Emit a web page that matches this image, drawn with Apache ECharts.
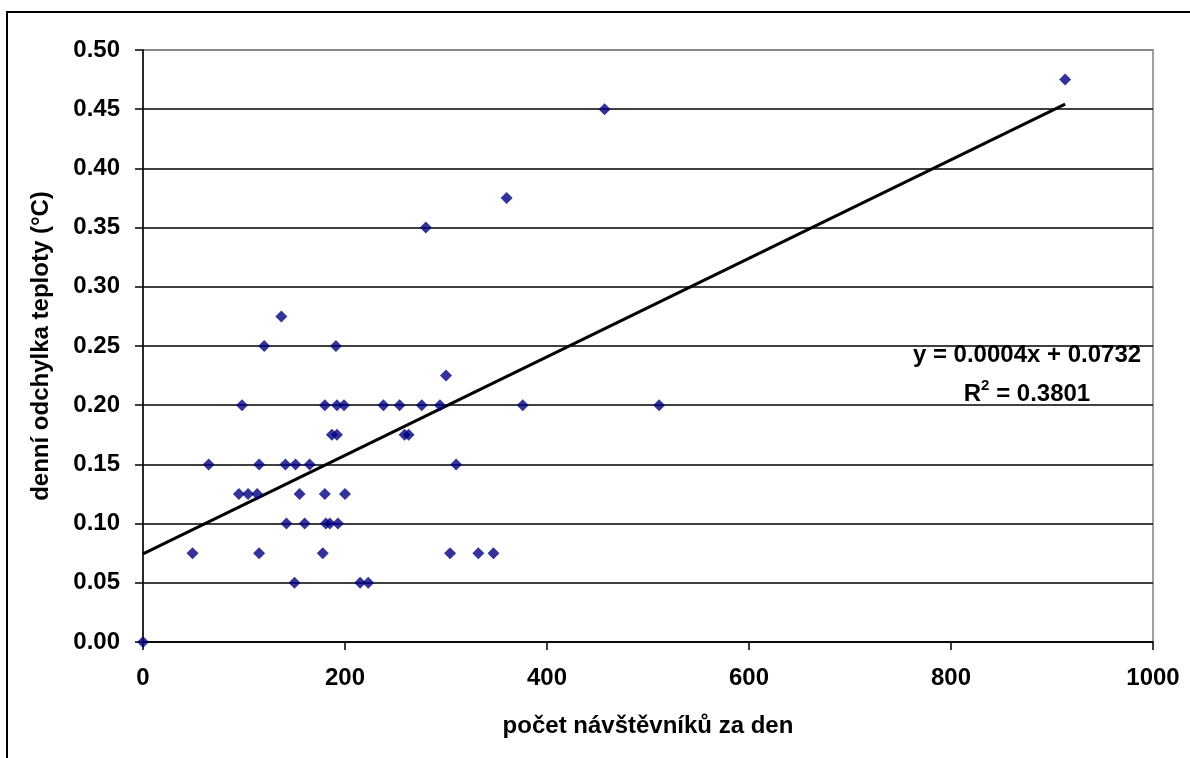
<!DOCTYPE html>
<html lang="cs">

<head>
    <meta charset="UTF-8">
    <title>denní odchylka teploty</title>
    <script src="https://cdn.jsdelivr.net/npm/echarts@6/dist/echarts.min.js"></script>
    <style>
        html, body {
            margin: 0;
            padding: 0;
            background: #fff;
        }
        #mChart {
            width: 1190px;
            height: 758px;
        }
    </style>
</head>

<body>
    <div id="mChart"></div>

    <script type="text/javascript">
        // počet návštěvníků za den (x) a denní odchylka teploty (y)
        const visitors = [913, 457, 360, 280, 137, 120, 191, 300,
            98, 180, 192, 199, 238, 254, 276, 294, 376, 511,
            187, 192, 259, 263,
            65, 115, 141, 151, 165, 310,
            95, 104, 113, 155, 180, 200,
            142, 160, 181, 185, 193,
            49, 115, 178, 304, 332, 347,
            150, 215, 223,
            0]
        const deviation = [0.475, 0.45, 0.375, 0.35, 0.275, 0.25, 0.25, 0.225,
            0.2, 0.2, 0.2, 0.2, 0.2, 0.2, 0.2, 0.2, 0.2, 0.2,
            0.175, 0.175, 0.175, 0.175,
            0.15, 0.15, 0.15, 0.15, 0.15, 0.15,
            0.125, 0.125, 0.125, 0.125, 0.125, 0.125,
            0.1, 0.1, 0.1, 0.1, 0.1,
            0.075, 0.075, 0.075, 0.075, 0.075, 0.075,
            0.05, 0.05, 0.05,
            0]

        // lineární trend, jak je vidět v grafu
        const trendIntercept = 0.0745
        const trendSlope = 0.000416
        const equationText = 'y = 0.0004x + 0.0732'
        const r2Text = '0.3801'

        const xTicks = [0, 200, 400, 600, 800, 1000]
        const yTicks = [0, 0.05, 0.1, 0.15, 0.2, 0.25, 0.3, 0.35, 0.4, 0.45, 0.5]

        const font = '"Liberation Sans", Arial, sans-serif'

        let points = visitors.map((v, i) => [v, deviation[i]])
        let xEnd = Math.max(...visitors)
        let trend = [[0, trendIntercept], [xEnd, trendIntercept + trendSlope * xEnd]]

        // poslední vodorovná čára splývá s šedým okrajem plochy
        let gridColors = yTicks.map((t, i) => i === yTicks.length - 1 ? '#808080' : '#000')

        var mChart = echarts.init(document.getElementById('mChart'))

        mChart.setOption({
            animation: false,
            backgroundColor: '#fff',
            textStyle: { fontFamily: font },
            grid: {
                left: 143,
                right: 37,
                top: 50,
                bottom: 116,
                show: true,
                borderColor: '#808080',
                borderWidth: 1.5,
                outerBoundsMode: 'none'
            },
            xAxis: {
                type: 'value',
                min: xTicks[0],
                max: xTicks[xTicks.length - 1],
                interval: 200,
                name: 'počet návštěvníků za den',
                nameLocation: 'middle',
                nameGap: 72,
                nameTextStyle: { color: '#000', fontSize: 24, fontWeight: 'bold', fontFamily: font },
                axisLine: { lineStyle: { color: '#000', width: 1.5 } },
                axisTick: { show: true, length: 8, lineStyle: { color: '#000', width: 1.5 } },
                axisLabel: {
                    color: '#000', fontSize: 24, fontWeight: 'bold', margin: 24,
                    formatter: v => String(v)
                },
                splitLine: { show: false }
            },
            yAxis: {
                type: 'value',
                min: yTicks[0],
                max: yTicks[yTicks.length - 1],
                interval: 0.05,
                name: 'denní odchylka teploty (°C)',
                nameLocation: 'middle',
                nameGap: 90,
                nameTextStyle: { color: '#000', fontSize: 24, fontWeight: 'bold', fontFamily: font },
                axisLine: { show: true, lineStyle: { color: '#000', width: 1.5 } },
                axisTick: { show: true, length: 8, lineStyle: { color: '#000', width: 1.5 } },
                axisLabel: {
                    color: '#000', fontSize: 24, fontWeight: 'bold', margin: 23,
                    formatter: v => v.toFixed(2)
                },
                splitLine: { show: true, lineStyle: { color: gridColors, width: 1.5 } }
            },
            series: [{
                type: 'line',
                data: trend,
                showSymbol: false,
                symbol: 'none',
                lineStyle: { color: '#000', width: 3 },
                z: 3
            }, {
                type: 'scatter',
                data: points,
                symbol: 'diamond',
                symbolSize: 12,
                itemStyle: { color: '#000080' },
                z: 4
            }],
            graphic: [{
                type: 'rect',
                shape: { x: 7, y: 12, width: 1300, height: 900 },
                style: { fill: null, stroke: '#000', lineWidth: 2 },
                silent: true
            }, {
                type: 'text',
                x: 1027,
                y: 355,
                style: {
                    text: equationText,
                    font: 'bold 24px ' + font,
                    fill: '#000',
                    align: 'center',
                    verticalAlign: 'middle'
                },
                z: 10
            }, {
                type: 'text',
                x: 1027,
                y: 392,
                style: {
                    text: '{r|R}{s|2}{r| = ' + r2Text + '}',
                    fill: '#000',
                    align: 'center',
                    verticalAlign: 'middle',
                    rich: {
                        r: { font: 'bold 24px ' + font, fill: '#000', lineHeight: 28, verticalAlign: 'bottom' },
                        s: { font: 'bold 15px ' + font, fill: '#000', lineHeight: 28, verticalAlign: 'top' }
                    }
                },
                z: 10
            }]
        })
    </script>
</body>

</html>
